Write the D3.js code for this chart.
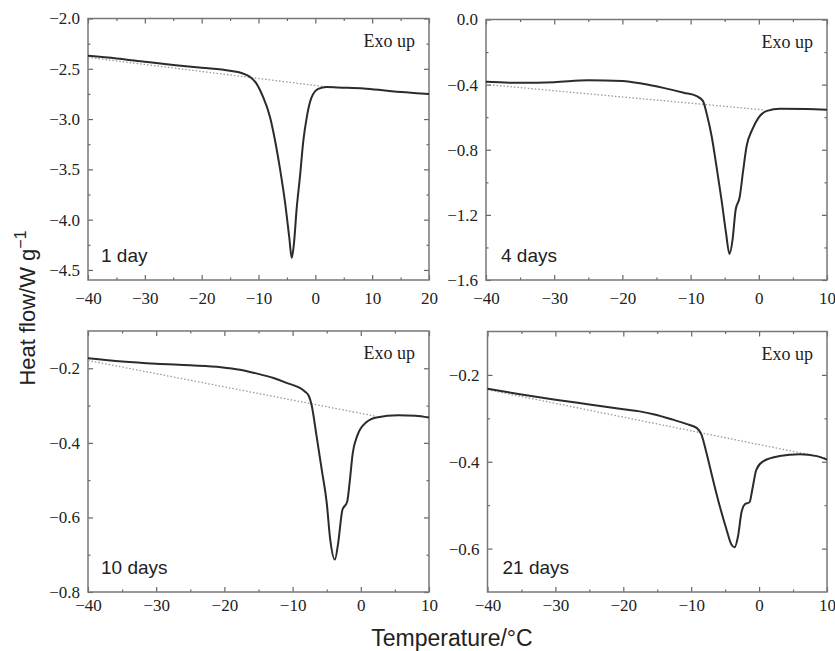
<!DOCTYPE html>
<html>
<head>
<meta charset="utf-8">
<script src="https://cdn.jsdelivr.net/npm/d3@7"></script>
<style>
  body { margin: 0; background: #fff; }
  .tick text { font-family: "Liberation Serif", "Times New Roman", serif; font-size: 17px; fill: #222; }
  .tick line { stroke: #666; stroke-width: 1.2; }
</style>
</head>
<body>
<div id="chart"></div>
<script>
// DSC thermograms, four storage times
var panelLabels = ["1 day", "4 days", "10 days", "21 days"];

// 1 day
var temp1 = [-40, -35, -30, -25, -20, -15, -13, -11.5, -10.5, -9.2, -8.0, -7.1, -6.2, -5.3, -4.6, -4.15, -3.75, -3.3, -2.7, -2.1, -1.5, -0.7, 0.5, 2.0, 4.0, 8.5, 13, 20];
var flow1 = [-2.371, -2.397, -2.43, -2.462, -2.49, -2.52, -2.542, -2.58, -2.635, -2.78, -2.975, -3.21, -3.50, -3.84, -4.17, -4.38, -4.23, -3.90, -3.57, -3.21, -2.98, -2.79, -2.70, -2.68, -2.685, -2.695, -2.72, -2.75];
var base1 = [[-40, -2.387], [2, -2.68]];

// 4 days
var temp2 = [-40, -35, -30, -25, -20, -17, -14, -11, -9.1, -8.2, -7.65, -6.9, -6.2, -5.46, -4.8, -4.3, -3.85, -3.4, -2.8, -2.3, -1.8, -1.0, -0.1, 1.2, 3.1, 7.0, 10];
var flow2 = [-0.383, -0.389, -0.385, -0.373, -0.378, -0.395, -0.42, -0.45, -0.471, -0.50, -0.577, -0.72, -0.904, -1.109, -1.313, -1.44, -1.354, -1.17, -1.09, -0.93, -0.78, -0.68, -0.607, -0.561, -0.548, -0.55, -0.555];
var base2 = [[-40, -0.399], [0.9, -0.556]];

// 10 days
var temp3 = [-40, -35, -30, -25, -20.5, -17.7, -15.5, -12.8, -10.9, -8.2, -7.6, -7.2, -6.5, -5.7, -5.0, -4.5, -3.8, -3.3, -2.7, -2.0, -1.6, -1.2, -0.5, 0.8, 2.3, 5.5, 8, 10];
var flow3 = [-0.173, -0.182, -0.188, -0.192, -0.197, -0.204, -0.213, -0.226, -0.239, -0.262, -0.275, -0.30, -0.38, -0.475, -0.56, -0.657, -0.713, -0.666, -0.58, -0.558, -0.50, -0.43, -0.38, -0.345, -0.332, -0.326, -0.327, -0.332];
var base3 = [[-40, -0.179], [2.3, -0.329]];

// 21 days
var temp4 = [-40, -35, -30, -25, -20, -17.6, -15.4, -12.7, -10.5, -9.2, -8.5, -7.75, -6.8, -5.8, -4.8, -4.1, -3.6, -3.1, -2.6, -2.1, -1.4, -1.0, -0.4, 0.6, 3.0, 6.0, 8.5, 10];
var flow4 = [-0.232, -0.245, -0.257, -0.268, -0.279, -0.284, -0.291, -0.303, -0.314, -0.322, -0.337, -0.38, -0.441, -0.502, -0.556, -0.59, -0.597, -0.571, -0.517, -0.498, -0.493, -0.464, -0.418, -0.399, -0.387, -0.383, -0.387, -0.395];
var base4 = [[-40, -0.234], [10, -0.392]];

// axis ranges and ticks
var xDomains = [[-40, 20], [-40, 10], [-40, 10], [-40, 10]];
var yDomains = [[-4.6, -2.0], [-1.6, 0.0], [-0.8, -0.1], [-0.7, -0.1]];
var yMajor = [[-2.0, -2.5, -3.0, -3.5, -4.0, -4.5], [0.0, -0.4, -0.8, -1.2, -1.6], [-0.2, -0.4, -0.6, -0.8], [-0.2, -0.4, -0.6]];
var yMinor = [[-2.25, -2.75, -3.25, -3.75, -4.25], [-0.2, -0.6, -1.0, -1.4], [-0.3, -0.5, -0.7], [-0.3, -0.5]];

var W = 835, H = 651;
var boxes = [
    {x0: 88, x1: 429, y0: 18.5, y1: 280, pad: 12},
    {x0: 486, x1: 827, y0: 19.5, y1: 280, pad: 12},
    {x0: 88, x1: 429, y0: 331, y1: 592, pad: 7},
    {x0: 487.5, x1: 827, y0: 331.5, y1: 592, pad: 7}
];
var series = [
    {t: temp1, v: flow1, base: base1},
    {t: temp2, v: flow2, base: base2},
    {t: temp3, v: flow3, base: base3},
    {t: temp4, v: flow4, base: base4}
];

var svg = d3.select("#chart").append("svg")
    .attr("width", W)
    .attr("height", H);

var fmtY = d3.format(".1f");
var fmtX = d3.format("d");

boxes.forEach(function (b, i) {
    var x = d3.scaleLinear().domain(xDomains[i]).range([b.x0, b.x1]);
    var y = d3.scaleLinear().domain(yDomains[i]).range([b.y1, b.y0]);
    var xMaj = d3.range(xDomains[i][0], xDomains[i][1] + 0.1, 10);
    var xMin = d3.range(xDomains[i][0] + 5, xDomains[i][1], 10);
    var g = svg.append("g").attr("class", "panel");

    // major ticks with labels
    g.append("g")
        .attr("transform", "translate(0," + b.y1 + ")")
        .call(d3.axisBottom(x).tickValues(xMaj).tickSize(-5).tickPadding(b.pad).tickFormat(fmtX));
    g.append("g")
        .attr("transform", "translate(" + b.x0 + ",0)")
        .call(d3.axisLeft(y).tickValues(yMajor[i]).tickSize(-5).tickPadding(8).tickFormat(fmtY));
    g.append("g")
        .attr("transform", "translate(0," + b.y0 + ")")
        .call(d3.axisTop(x).tickValues(xMaj).tickSize(-5).tickFormat(""));
    g.append("g")
        .attr("transform", "translate(" + b.x1 + ",0)")
        .call(d3.axisRight(y).tickValues(yMajor[i]).tickSize(-5).tickFormat(""));

    // minor ticks
    g.append("g")
        .attr("transform", "translate(0," + b.y1 + ")")
        .call(d3.axisBottom(x).tickValues(xMin).tickSize(-2.5).tickFormat(""));
    g.append("g")
        .attr("transform", "translate(0," + b.y0 + ")")
        .call(d3.axisTop(x).tickValues(xMin).tickSize(-2.5).tickFormat(""));
    g.append("g")
        .attr("transform", "translate(" + b.x0 + ",0)")
        .call(d3.axisLeft(y).tickValues(yMinor[i]).tickSize(-2.5).tickFormat(""));
    g.append("g")
        .attr("transform", "translate(" + b.x1 + ",0)")
        .call(d3.axisRight(y).tickValues(yMinor[i]).tickSize(-2.5).tickFormat(""));

    g.selectAll(".domain").remove();

    // frame
    g.append("rect")
        .attr("x", b.x0)
        .attr("y", b.y0)
        .attr("width", b.x1 - b.x0)
        .attr("height", b.y1 - b.y0)
        .attr("fill", "none")
        .attr("stroke", "#777")
        .attr("stroke-width", 1.5);

    // dotted baseline
    var s = series[i];
    g.append("path")
        .datum(s.base)
        .attr("d", d3.line().x(function (d) { return x(d[0]); }).y(function (d) { return y(d[1]); }))
        .attr("fill", "none")
        .attr("stroke", "#999")
        .attr("stroke-width", 1.3)
        .attr("stroke-dasharray", "1.5,2");

    // thermogram
    var pts = s.t.map(function (t, k) { return [t, s.v[k]]; });
    g.append("path")
        .datum(pts)
        .attr("d", d3.line().curve(d3.curveMonotoneX)
            .x(function (d) { return x(d[0]); })
            .y(function (d) { return y(d[1]); }))
        .attr("fill", "none")
        .attr("stroke", "#2b2b2b")
        .attr("stroke-width", 2);

    // labels
    g.append("text")
        .attr("x", b.x1 - 14)
        .attr("y", b.y0 + 28)
        .attr("text-anchor", "end")
        .style("font-family", "'Liberation Serif', 'Times New Roman', serif")
        .style("font-size", "18px")
        .attr("fill", "#222")
        .text("Exo up");
    g.append("text")
        .attr("x", b.x0 + (i % 2 === 0 ? 13 : 15))
        .attr("y", b.y1 - 18)
        .style("font-family", "'Liberation Sans', Arial, sans-serif")
        .style("font-size", "19px")
        .attr("fill", "#222")
        .text(panelLabels[i]);
});

// axis titles
var yTitle = svg.append("text")
    .attr("transform", "translate(35,308) rotate(-90)")
    .attr("text-anchor", "middle")
    .style("font-family", "'Liberation Sans', Arial, sans-serif")
    .style("font-size", "22px")
    .attr("fill", "#222");
yTitle.append("tspan").text("Heat flow/W g");
yTitle.append("tspan").attr("dy", -9).style("font-size", "16px").text("\u22121");

svg.append("text")
    .attr("x", 452)
    .attr("y", 646)
    .attr("text-anchor", "middle")
    .style("font-family", "'Liberation Sans', Arial, sans-serif")
    .style("font-size", "23px")
    .attr("fill", "#222")
    .text("Temperature/\u00B0C");
</script>
</body>
</html>
